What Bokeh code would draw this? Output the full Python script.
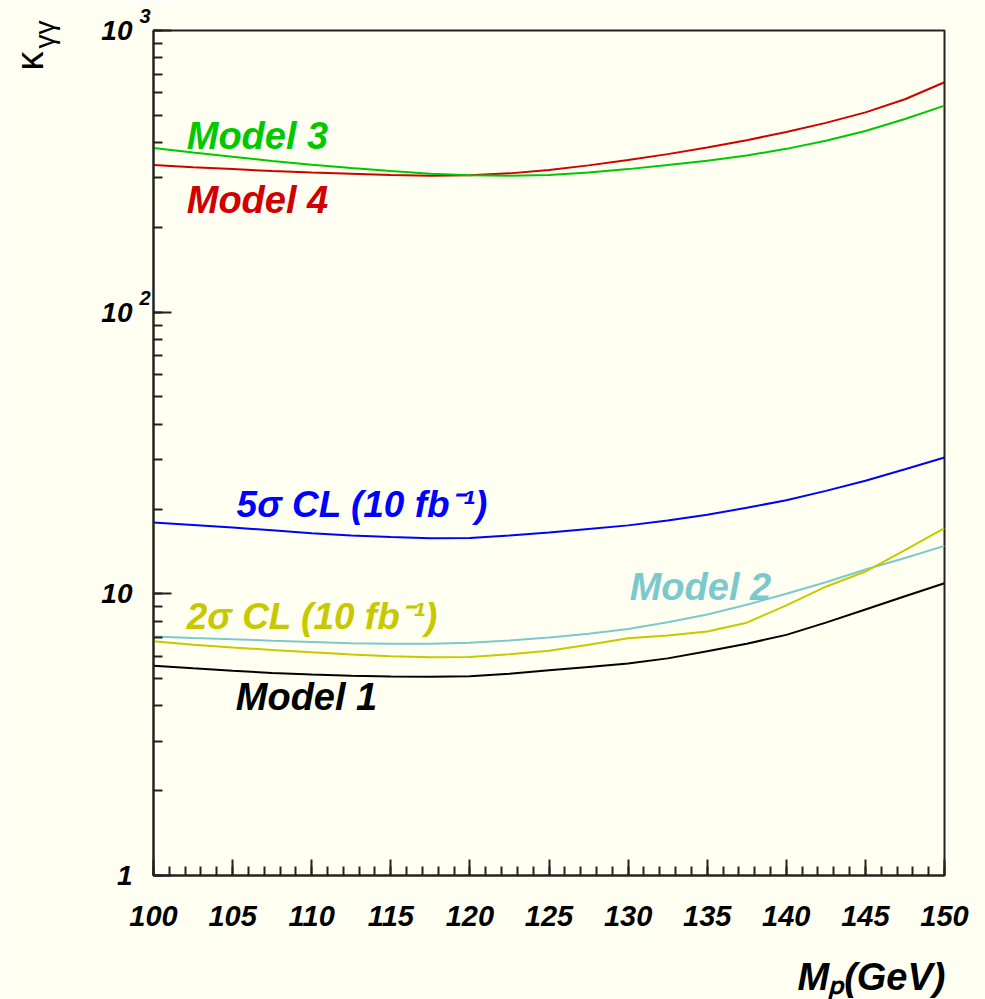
import math
from bokeh.plotting import figure
from bokeh.models import Label, SingleIntervalTicker, LogTicker
from bokeh.embed import file_html
from bokeh.resources import INLINE

# ---- data ----
mass = [100, 102.5, 105, 107.5, 110, 112.5, 115, 117.5, 120, 122.5, 125,
        127.5, 130, 132.5, 135, 137.5, 140, 142.5, 145, 147.5, 150]
model1 = [5.56, 5.44, 5.33, 5.24, 5.17, 5.12, 5.09, 5.08, 5.10, 5.20, 5.35,
          5.50, 5.66, 5.90, 6.25, 6.65, 7.15, 7.90, 8.80, 9.80, 10.9]
model2 = [7.05, 6.97, 6.90, 6.82, 6.75, 6.68, 6.65, 6.65, 6.70, 6.83, 7.00,
          7.22, 7.50, 7.93, 8.45, 9.15, 10.0, 11.0, 12.2, 13.4, 14.8]
cl2 = [6.78, 6.60, 6.45, 6.32, 6.20, 6.09, 6.00, 5.95, 5.97, 6.10, 6.28,
       6.60, 6.95, 7.11, 7.35, 7.90, 9.10, 10.6, 12.0, 14.3, 17.1]
cl5 = [17.9, 17.55, 17.2, 16.8, 16.4, 16.1, 15.9, 15.75, 15.8, 16.1, 16.5,
       17.0, 17.5, 18.2, 19.1, 20.2, 21.5, 23.2, 25.2, 27.7, 30.5]
model3 = [383, 369, 356, 344, 334, 325, 317, 310, 306, 305, 307,
          313, 322, 333, 345, 360, 380, 406, 440, 485, 541]
model4 = [333, 327, 322, 317, 313, 310, 307, 305, 306, 311, 320,
          332, 347, 364, 384, 408, 436, 470, 512, 570, 655]

y_major = {1: "1", 10: "10", 100: "10", 1000: "10"}
y_sup = ["2", "3"]
x_title = "Mₚ(GeV)"
y_title = ["κ", "γγ"]

BG = "#fffff2"
FONT = "Liberation Sans"
C_GREEN = "#00c800"
C_RED = "#d00000"
C_BLUE = "#0000ff"
C_CYAN = "#7cc9cd"
C_YEL = "#c8c800"

p = figure(width=985, height=999, y_axis_type="log",
           x_range=(100, 150), y_range=(1, 1000),
           output_backend="svg", toolbar_location=None,
           min_border_left=153, min_border_right=41,
           min_border_top=30, min_border_bottom=124)
p.background_fill_color = BG
p.border_fill_color = BG
p.outline_line_color = "#222222"
p.outline_line_width = 2
p.grid.visible = False

xa = p.xaxis[0]
xa.ticker = SingleIntervalTicker(interval=5, num_minor_ticks=5)
xa.major_tick_in = 16
xa.major_tick_out = 0
xa.minor_tick_in = 9
xa.minor_tick_out = 0
xa.axis_line_width = 2
xa.axis_line_color = "#222222"
xa.major_tick_line_width = 2
xa.minor_tick_line_width = 2
xa.major_tick_line_color = "#222222"
xa.minor_tick_line_color = "#222222"
xa.major_label_standoff = 30
xa.major_label_text_font = FONT
xa.major_label_text_font_style = "bold italic"
xa.major_label_text_font_size = "29px"
xa.major_label_text_color = "black"

ya = p.yaxis[0]
ya.ticker = LogTicker(num_minor_ticks=10)
ya.major_tick_in = 18
ya.major_tick_out = 0
ya.minor_tick_in = 9
ya.minor_tick_out = 0
ya.axis_line_width = 2
ya.axis_line_color = "#222222"
ya.major_tick_line_width = 2
ya.minor_tick_line_width = 2
ya.major_tick_line_color = "#222222"
ya.minor_tick_line_color = "#222222"
ya.major_label_standoff = 21
ya.major_label_overrides = y_major
ya.major_label_text_font = FONT
ya.major_label_text_font_style = "bold italic"
ya.major_label_text_font_size = "28px"
ya.major_label_text_color = "black"


def side_label(side, x, y, text, size, align="left", angle=0.0,
               style="bold italic"):
    # text placed at a canvas position, hosted in a side panel so it is not clipped
    p.add_layout(Label(x=x, y=y, x_units="canvas", y_units="canvas",
                       text=text, angle=angle, text_font=FONT,
                       text_font_style=style, text_font_size=size,
                       text_color="black", text_align=align,
                       text_baseline="alphabetic"), side)

# superscripts of 10^2 and 10^3
side_label("right", 139, 297, y_sup[0], "20px")
side_label("right", 139, 15, y_sup[1], "20px")

# axis titles
side_label("below", 945, 976, x_title, "38px", align="right")
side_label("left", 29, 70, y_title[0], "38px", angle=math.pi / 2, style="normal")
side_label("left", 44, 48, y_title[1], "28px", angle=math.pi / 2, style="normal")

# curves
p.line(mass, model1, line_color="black", line_width=2)
p.line(mass, model2, line_color=C_CYAN, line_width=2)
p.line(mass, cl2, line_color=C_YEL, line_width=2)
p.line(mass, cl5, line_color=C_BLUE, line_width=2)
p.line(mass, model4, line_color=C_RED, line_width=2)
p.line(mass, model3, line_color=C_GREEN, line_width=2)

def tlabel(x, y, text, color, size):
    p.add_layout(Label(x=x, y=y, text=text, text_color=color, y_offset=11,
                       text_font=FONT, text_font_style="bold italic",
                       text_font_size=size, text_align="left",
                       text_baseline="alphabetic"))

tlabel(102.1, 385, "Model 3", C_GREEN, "38px")
tlabel(102.1, 229, "Model 4", C_RED, "38px")
tlabel(105.25, 19.0, "5σ CL (10 fb⁻¹)", C_BLUE, "37px")
tlabel(102.1, 7.6, "2σ CL (10 fb⁻¹)", C_YEL, "37px")
tlabel(130.1, 9.7, "Model 2", C_CYAN, "38px")
tlabel(105.2, 3.92, "Model 1", "black", "38px")

open("out.html", "w").write(file_html(p, INLINE))
